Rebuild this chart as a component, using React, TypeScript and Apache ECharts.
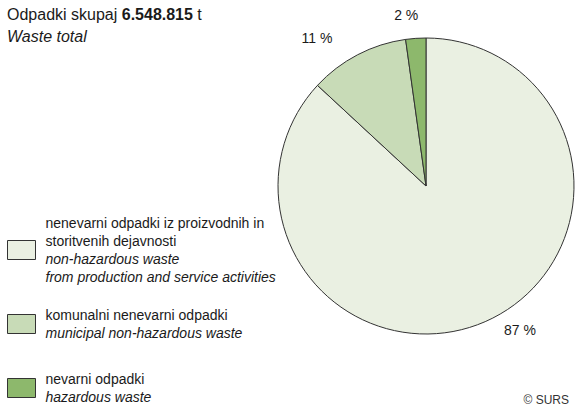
import React, { useEffect, useRef } from "react";
import * as echarts from "echarts";

const categories = [
  "nenevarni odpadki iz proizvodnih in storitvenih dejavnosti",
  "komunalni nenevarni odpadki",
  "nevarni odpadki",
];
const legendSl = [
  ["nenevarni odpadki iz proizvodnih in", "storitvenih dejavnosti"],
  ["komunalni nenevarni odpadki"],
  ["nevarni odpadki"],
];
const legendEn = [
  ["non-hazardous waste", "from production and service activities"],
  ["municipal non-hazardous waste"],
  ["hazardous waste"],
];
const shares = [86.9, 10.9, 2.2];
const colors = ["#EAF0E2", "#C8DBB7", "#8DB86C"];
const totalLabel = "6.548.815";

const FONT = "'Liberation Sans Narrow', 'Liberation Sans', Arial, sans-serif";

export default function App() {
  const ref = useRef<HTMLDivElement>(null);
  useEffect(() => {
    const chart = echarts.init(ref.current!, undefined, { renderer: "svg" });
    const legendTops = [216, 308, 372];
    const labelNudge = [
      [5, -12],
      [-10, 3],
      [9, -1],
    ];
    const legends = categories.map((name, i) => ({
      orient: "vertical",
      left: 7,
      top: legendTops[i],
      padding: 0,
      itemWidth: 28,
      itemHeight: 19,
      icon: "rect",
      selectedMode: false,
      data: [name],
      itemStyle: { borderColor: "#333", borderWidth: 1 },
      formatter: () =>
        [
          ...legendSl[i].map((l) => `{a|${l}}`),
          ...legendEn[i].map((l) => `{b|${l}}`),
        ].join("\n"),
      textStyle: {
        padding: [0, 0, 0, 5],
        rich: {
          a: { fontFamily: FONT, fontSize: 14, lineHeight: 18, color: "#1a1a1a" },
          b: { fontFamily: FONT, fontSize: 14, lineHeight: 18, color: "#1a1a1a", fontStyle: "italic" },
        },
      },
    }));
    chart.setOption({
      animation: false,
      backgroundColor: "#ffffff",
      title: {
        left: 7,
        top: 3,
        padding: 0,
        text: `{a|Odpadki skupaj }{b|${totalLabel}}{a| t}\n{c|Waste total}`,
        textStyle: {
          fontWeight: "normal",
          rich: {
            a: { fontFamily: FONT, fontSize: 16, lineHeight: 22, color: "#1a1a1a", fontWeight: "normal" },
            b: { fontFamily: FONT, fontSize: 16, lineHeight: 22, color: "#1a1a1a", fontWeight: "bold" },
            c: { fontFamily: FONT, fontSize: 16, lineHeight: 22, color: "#1a1a1a", fontStyle: "italic", fontWeight: "normal" },
          },
        },
      },
      legend: legends,
      graphic: [
        {
          type: "text",
          right: 6,
          bottom: 3,
          style: { text: "© SURS", fontFamily: FONT, fontSize: 12, fill: "#333" },
        },
      ],
      series: [
        {
          type: "pie",
          center: [426, 186],
          radius: 148,
          startAngle: 90,
          clockwise: true,
          avoidLabelOverlap: false,
          itemStyle: { borderColor: "#333", borderWidth: 1 },
          label: {
            show: true,
            position: "outside",
            fontFamily: FONT,
            fontSize: 14,
            color: "#1a1a1a",
            formatter: (p: any) => `${Math.round(p.percent)} %`,
          },
          labelLine: { show: false, length: 22, length2: 0 },
          labelLayout: (params: any) => {
            const n = labelNudge[params.dataIndex] || [0, 0];
            return { dx: n[0], dy: n[1] };
          },
          emphasis: { disabled: true },
          data: categories.map((name, i) => ({
            name,
            value: shares[i],
            itemStyle: { color: colors[i] },
          })),
        },
      ],
    });
    return () => chart.dispose();
  }, []);
  return (
    <div
      ref={ref}
      style={{ position: "fixed", left: 0, top: 0, width: 575, height: 409 }}
    />
  );
}
